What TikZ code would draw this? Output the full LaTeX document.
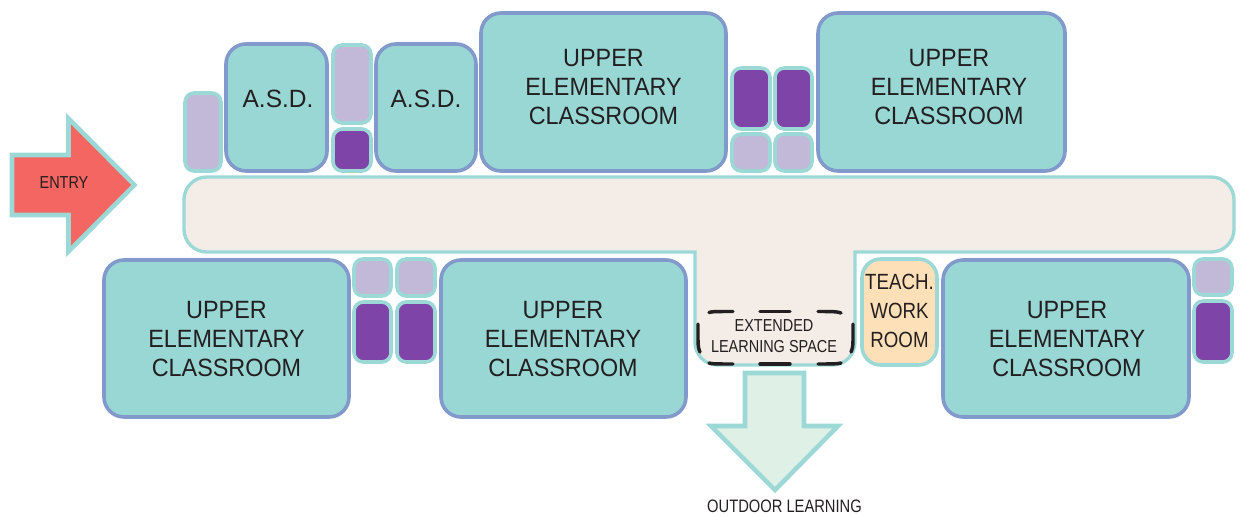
\documentclass[tikz,border=0pt]{standalone}
\usepackage{fontspec}
\setmainfont{Liberation Sans}
\newfontfamily\fbig[FakeStretch=.935]{Liberation Sans}
\newfontfamily\fasd[FakeStretch=.98]{Liberation Sans}
\newfontfamily\fmid[FakeStretch=.85]{Liberation Sans}
\newfontfamily\fsml[FakeStretch=.835]{Liberation Sans}
\newfontfamily\fout[FakeStretch=.818]{Liberation Sans}
\definecolor{tealfill}{HTML}{99D7D5}
\definecolor{tealline}{HTML}{9BD8D6}
\definecolor{blueline}{HTML}{8299CB}
\definecolor{lav}{HTML}{C2B8D8}
\definecolor{purp}{HTML}{7E44A8}
\definecolor{hallfill}{HTML}{F4ECE6}
\definecolor{redfill}{HTML}{F46661}
\definecolor{orangefill}{HTML}{FDE0B8}
\definecolor{palegreen}{HTML}{DFF0E6}
\definecolor{ink}{HTML}{231F20}
\tikzset{
  x=.75pt,y=-.75pt,
  room/.style={draw=blueline,fill=tealfill,line width=2.7pt,rounded corners=15pt},
  small/.style={draw=tealline,line width=2.7pt,rounded corners=7pt},
  lavbox/.style={small,fill=lav},
  purpbox/.style={small,fill=purp},
  teach/.style={small,fill=orangefill,rounded corners=14pt},
  hall/.style={draw=tealline,fill=hallfill,line width=2.5pt},
  bigarrow/.style={draw=tealline,line width=3.4pt,miter limit=10},
  biglbl/.style={text=ink,align=center,inner sep=0pt,font=\fbig\fontsize{18.75}{21.75}\selectfont},
  asdlbl/.style={text=ink,align=center,inner sep=0pt,font=\fasd\fontsize{18.75}{21.75}\selectfont},
  midlbl/.style={text=ink,align=center,inner sep=0pt,font=\fmid\fontsize{16.5}{21.6}\selectfont},
  smllbl/.style={text=ink,align=center,inner sep=0pt,font=\fsml\fontsize{13}{15.75}\selectfont},
  outlbl/.style={text=ink,align=center,inner sep=0pt,font=\fout\fontsize{13.5}{15.75}\selectfont},
  dashseg/.style={draw=ink,line width=2.6pt,line cap=round}
}
\begin{document}
\begin{tikzpicture}
\useasboundingbox (0,0) rectangle (1244,516);
% corridor
\draw[hall] (500,177) [rounded corners=17pt] -- (1234,177) -- (1234,252) -- (900,252) [sharp corners] -- (855,252) -- (855,320) [rounded corners=17pt] -- (855,365) -- (695,365) -- (695,320) [sharp corners] -- (695,252) -- (650,252) [rounded corners=17pt] -- (184,252) -- (184,177) -- cycle;
% dashed outline of the extended learning space
\draw[dashseg] (709,312.5) .. controls (712,311.5) and (716,311.5) .. (733,311.5);
\draw[dashseg] (760,311.5) -- (790,311.5);
\draw[dashseg] (818,311.5) .. controls (830,311.5) and (838,311.5) .. (841,313);
\draw[dashseg] (698,324) -- (698,340) .. controls (698,345) and (698.5,349) .. (700,352);
\draw[dashseg] (853,324) -- (853,340) .. controls (853,345) and (852.5,349) .. (851,352);
\draw[dashseg] (709,363) .. controls (712,364) and (716,364) .. (733,364);
\draw[dashseg] (760,364) -- (790,364);
\draw[dashseg] (818,364) .. controls (830,364) and (838,364) .. (841,363);
% top row
\draw[lavbox] (185,93) rectangle (221,171);
\draw[room] (226,44) rectangle (327,171);
\draw[lavbox] (333,45) rectangle (371,123);
\draw[purpbox] (333,129) rectangle (371,171);
\draw[room] (376,44) rectangle (476,171);
\draw[room] (481,13) rectangle (726,171);
\draw[purpbox] (732,68) rectangle (770,129);
\draw[purpbox] (775,68) rectangle (812,129);
\draw[lavbox] (732,134) rectangle (770,171);
\draw[lavbox] (775,134) rectangle (812,171);
\draw[room] (818,13) rectangle (1065,171);
% bottom row
\draw[room] (104,260) rectangle (349,417);
\draw[lavbox] (354,259) rectangle (391,296);
\draw[lavbox] (397,259) rectangle (435,296);
\draw[purpbox] (354,302) rectangle (391,362);
\draw[purpbox] (397,302) rectangle (435,362);
\draw[room] (441,260) rectangle (686,417);
\draw[teach] (862,259) rectangle (937,365);
\draw[room] (943,260) rectangle (1189,417);
\draw[lavbox] (1194,259) rectangle (1232,295);
\draw[purpbox] (1194,301) rectangle (1232,362);
% arrows
\draw[bigarrow,fill=redfill] (12,155) -- (68.5,155) -- (68.5,118.5) -- (134.5,185) -- (68.5,251.5) -- (68.5,215) -- (12,215) -- cycle;
\draw[bigarrow,fill=palegreen] (745,373) -- (804,373) -- (804,426) -- (838,426) -- (775,490) -- (711,426) -- (745,426) -- cycle;
% labels
\node[asdlbl] (asda) at (278,99) {A.S.D.};
\node[asdlbl] (asdb) at (426,99) {A.S.D.};
\node[biglbl] (uea) at (603.5,87) {UPPER\\ELEMENTARY\\CLASSROOM};
\node[biglbl] (ueb) at (949,87) {UPPER\\ELEMENTARY\\CLASSROOM};
\node[biglbl] (uec) at (226.5,339) {UPPER\\ELEMENTARY\\CLASSROOM};
\node[biglbl] (ued) at (563,339) {UPPER\\ELEMENTARY\\CLASSROOM};
\node[biglbl] (uee) at (1067,339) {UPPER\\ELEMENTARY\\CLASSROOM};
\node[midlbl] (tw) at (899.5,311) {TEACH.\\WORK\\ROOM};
\node[smllbl] (els) at (774,336.5) {EXTENDED\\LEARNING SPACE};
\node[smllbl] (entry) at (64,183) {ENTRY};
\node[outlbl] (out) at (784.5,506) {OUTDOOR LEARNING};
\end{tikzpicture}
\end{document}
